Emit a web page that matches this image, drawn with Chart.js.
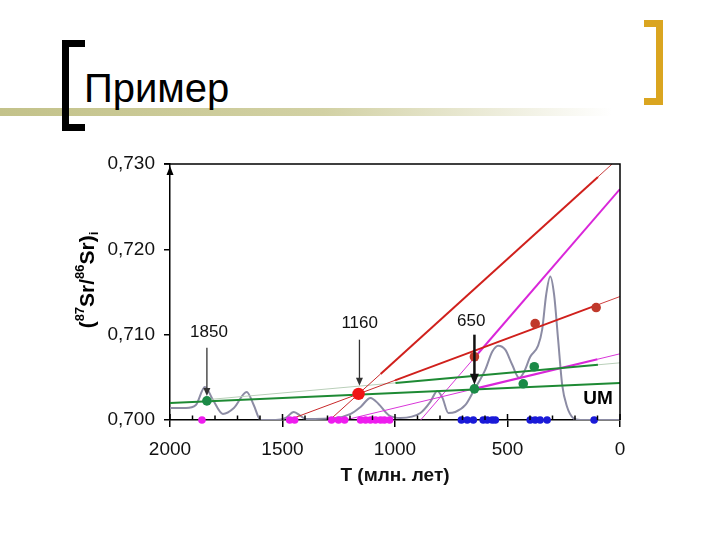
<!DOCTYPE html>
<html>
<head>
<meta charset="utf-8">
<script src="https://cdn.jsdelivr.net/npm/chart.js@4.4.0/dist/chart.umd.min.js"></script>
<style>
  html, body { margin: 0; padding: 0; background: #fff; }
  #slide { position: relative; width: 720px; height: 540px; overflow: hidden; font-family: "Liberation Sans", Arial, sans-serif; }
  .bar { position: absolute; left: 0; top: 108px; width: 720px; height: 8px;
         background: linear-gradient(to right, #c3c28a 0%, #d2d1a4 45%, #ffffff 85%); }
  .title { position: absolute; left: 84px; top: 64px; font-size: 40px; line-height: 48px; color: #000; }
  .brk-l { position: absolute; left: 62px; top: 40px; width: 16px; height: 77px; border: 7px solid #000; border-right: none; }
  .brk-r { position: absolute; left: 644px; top: 20px; width: 12px; height: 71px; border: 7px solid #daa520; border-left: none; }
  canvas { position: absolute; left: 0; top: 0; }
</style>
</head>
<body>
<div id="slide">
  <div class="bar"></div>
  <div class="brk-l"></div>
  <div class="brk-r"></div>
  <div class="title">Пример</div>
  <canvas id="chart" width="720" height="540"></canvas>
</div>
<script>
// density curve of ages (T, Ma) and ratio
const curveT = [2000, 1929, 1885, 1845, 1809, 1765, 1716, 1659, 1628, 1597, 1530, 1486, 1450, 1419, 1397,
  1264, 1197, 1153, 1109, 1073, 1029, 976, 887, 843, 812, 789, 763, 732, 687, 648, 599, 568, 541, 510,
  479, 448, 426, 399, 364, 346, 328, 310, 293, 275, 257, 235, 208, 177, 0]
const curveV = [0.70141, 0.70141, 0.70176, 0.70388, 0.70235, 0.70071, 0.70141, 0.70329, 0.70176, 0.7, 0.7,
  0.70024, 0.70094, 0.70047, 0.70012, 0.70024, 0.70071, 0.70153, 0.70259, 0.70188, 0.70059, 0.70024,
  0.70082, 0.70212, 0.70341, 0.70259, 0.70082, 0.70094, 0.70176, 0.70353, 0.70588, 0.708, 0.70871,
  0.70824, 0.70647, 0.70494, 0.70565, 0.70741, 0.70871, 0.71059, 0.71471, 0.71682, 0.71471, 0.70941,
  0.70412, 0.70153, 0.70024, 0.7, 0.7]

// ages of samples along the baseline
const pinkAges = [1858, 1468, 1446, 1282, 1251, 1224, 1153, 1131, 1109, 1087, 1064, 1047, 1024]
const blueAges = [705, 679, 652, 608, 590, 568, 554, 399, 377, 355, 324, 115]

// measured points
const greenT = [1836, 647, 430, 381]
const greenV = [0.70224, 0.70365, 0.70424, 0.70624]
const redT = [647, 377, 106]
const redV = [0.70741, 0.71129, 0.71318]
const keyT = [1162]
const keyV = [0.70306]

// evolution lines: [T, ratio] end points
const redSteepThin = [[1290, 0.7], [1064, 0.7054]]
const redSteep = [[1064, 0.7054], [98, 0.72849]]
const redSteepEnd = [[98, 0.72849], [35, 0.73]]
const redFlatThin = [[1474, 0.7], [1000, 0.70465]]
const redFlat = [[1000, 0.70465], [106, 0.71343]]
const redFlatEnd = [[106, 0.71343], [0, 0.71447]]
const pinkSteepThin = [[886, 0.7], [650, 0.70721]]
const pinkSteep = [[650, 0.70721], [0, 0.72706]]
const pinkFlatThin = [[1222, 0.7], [647, 0.70365]]
const pinkFlat = [[647, 0.70365], [100, 0.70712]]
const pinkFlatEnd = [[100, 0.70712], [0, 0.70776]]
const greenLong = [[2000, 0.702], [0, 0.70435]]
const greenUpThin = [[1836, 0.70238], [998, 0.70435]]
const greenUp = [[998, 0.70435], [98, 0.70647]]
const greenUpEnd = [[98, 0.70647], [0, 0.7067]]

// arrows and labels
const marks = [
  { label: "1850", T: 1836, labelT: 1827, labelV: 0.71025, from: 0.70847, to: 0.70282, bold: false },
  { label: "1160", T: 1158, labelT: 1157, labelV: 0.71129, from: 0.70941, to: 0.704, bold: false },
  { label: "650", T: 647, labelT: 661, labelV: 0.71153, from: 0.71, to: 0.70412, bold: true }
]
const umT = 98
const umV = 0.70247

const FONT = "'Liberation Sans', Arial, sans-serif"

function seg(points, color, width, order) {
  return {
    data: points.map(p => ({ x: p[0], y: p[1] })),
    showLine: true,
    borderColor: color,
    borderWidth: width,
    pointRadius: 0,
    order: order || 5
  }
}

function dots(ts, vs, color, radius, order) {
  return {
    data: ts.map((t, i) => ({ x: t, y: vs[i] })),
    showLine: false,
    backgroundColor: color,
    borderColor: color,
    borderWidth: 0,
    pointRadius: radius,
    clip: false,
    order: order || 1
  }
}

const framePlugin = {
  id: "frame",
  afterDraw(chart) {
    const { ctx, chartArea: a, scales: { x, y } } = chart
    ctx.save()
    ctx.strokeStyle = "#000"
    ctx.fillStyle = "#000"
    ctx.lineWidth = 1.5

    // top and right frame
    ctx.beginPath()
    ctx.moveTo(a.left - 6, a.top)
    ctx.lineTo(a.right, a.top)
    ctx.lineTo(a.right, a.bottom)
    ctx.stroke()

    // arrow head on the y axis
    ctx.beginPath()
    ctx.moveTo(a.left, a.top + 2)
    ctx.lineTo(a.left - 3.5, a.top + 11)
    ctx.lineTo(a.left + 3.5, a.top + 11)
    ctx.closePath()
    ctx.fill()

    // inner ticks on the x axis
    for (let t = 0; t <= 2000; t += 100) {
      const px = x.getPixelForValue(t)
      const len = t % 500 === 0 ? 6 : 4.5
      ctx.beginPath()
      ctx.moveTo(px, a.bottom)
      ctx.lineTo(px, a.bottom - len)
      ctx.stroke()
    }

    // age arrows
    marks.forEach(m => {
      const px = x.getPixelForValue(m.T)
      const y1 = y.getPixelForValue(m.from)
      const y2 = y.getPixelForValue(m.to)
      const head = m.bold ? 11 : 8
      const half = m.bold ? 4.5 : 3.5
      ctx.lineWidth = m.bold ? 2.5 : 1.3
      ctx.strokeStyle = m.bold ? "#111" : "#333"
      ctx.fillStyle = m.bold ? "#111" : "#333"
      ctx.beginPath()
      ctx.moveTo(px, y1)
      ctx.lineTo(px, y2 - head + 1)
      ctx.stroke()
      ctx.beginPath()
      ctx.moveTo(px, y2)
      ctx.lineTo(px - half, y2 - head)
      ctx.lineTo(px + half, y2 - head)
      ctx.closePath()
      ctx.fill()

      ctx.fillStyle = "#111"
      ctx.font = "17px " + FONT
      ctx.textAlign = "center"
      ctx.textBaseline = "middle"
      ctx.fillText(m.label, x.getPixelForValue(m.labelT), y.getPixelForValue(m.labelV))
    })

    ctx.fillStyle = "#000"
    ctx.font = "bold 19px " + FONT
    ctx.textAlign = "center"
    ctx.textBaseline = "middle"
    ctx.fillText("UM", x.getPixelForValue(umT), y.getPixelForValue(umV))

    // y axis title with isotope superscripts
    const parts = [
      { t: "(", big: true, dy: 0 },
      { t: "87", big: false, dy: -8 },
      { t: "Sr/", big: true, dy: 0 },
      { t: "86", big: false, dy: -8 },
      { t: "Sr)", big: true, dy: 0 },
      { t: "i", big: false, dy: 6 }
    ]
    const bigFont = "bold 21px " + FONT
    const smallFont = "bold 13px " + FONT
    let total = 0
    parts.forEach(p => {
      ctx.font = p.big ? bigFont : smallFont
      p.w = ctx.measureText(p.t).width
      total += p.w
    })
    ctx.translate(88, 280)
    ctx.rotate(-Math.PI / 2)
    ctx.textAlign = "left"
    ctx.textBaseline = "middle"
    let cx = -total / 2
    parts.forEach(p => {
      ctx.font = p.big ? bigFont : smallFont
      ctx.fillText(p.t, cx, p.dy)
      cx += p.w
    })
    ctx.restore()
  }
}

const ctx = document.getElementById("chart").getContext("2d")

new Chart(ctx, {
  type: "scatter",
  data: {
    datasets: [
      {
        data: curveT.map((t, i) => ({ x: t, y: curveV[i] })),
        showLine: true,
        borderColor: "#8c8ca4",
        borderWidth: 2,
        pointRadius: 0,
        cubicInterpolationMode: "monotone",
        order: 10
      },
      seg(greenUpThin, "#b9cfb9", 1, 6),
      seg(greenUpEnd, "#b9cfb9", 1, 6),
      seg(greenUp, "#1e8a34", 2, 5),
      seg(greenLong, "#1e8a34", 2, 5),
      seg(pinkSteepThin, "#d936d9", 1, 5),
      seg(pinkSteep, "#d926d9", 2, 5),
      seg(pinkFlatThin, "#d936d9", 1, 5),
      seg(pinkFlat, "#d926d9", 2.2, 5),
      seg(pinkFlatEnd, "#d936d9", 1, 5),
      seg(redSteepThin, "#c8282a", 1, 4),
      seg(redSteep, "#d0201c", 2, 4),
      seg(redSteepEnd, "#c84040", 1, 4),
      seg(redFlatThin, "#c8282a", 1, 4),
      seg(redFlat, "#d0201c", 2, 4),
      seg(redFlatEnd, "#d04040", 1, 4),
      dots(pinkAges, pinkAges.map(() => 0.7), "#ee1cee", 3.8, 2),
      dots(blueAges, blueAges.map(() => 0.7), "#1a1ad8", 3.8, 2),
      dots(greenT, greenV, "#1b8a47", 4.8, 1),
      dots(redT, redV, "#c0392b", 4.8, 1),
      dots(keyT, keyV, "#f01515", 6.2, 1)
    ]
  },
  options: {
    responsive: false,
    animation: false,
    layout: { padding: { top: 164, right: 100, left: 0, bottom: 0 } },
    plugins: {
      legend: { display: false },
      tooltip: { enabled: false }
    },
    scales: {
      x: {
        type: "linear",
        reverse: true,
        min: 0,
        max: 2000,
        ticks: {
          stepSize: 500,
          padding: 11,
          color: "#111",
          font: { family: FONT, size: 19 },
          maxRotation: 0,
          callback: v => String(v)
        },
        grid: { drawOnChartArea: false, color: "#000", lineWidth: 1.5, tickLength: 7 },
        border: { color: "#000", width: 1.5 },
        title: {
          display: true,
          text: "T (млн. лет)",
          color: "#111",
          font: { family: FONT, size: 19, weight: "bold" },
          padding: { top: 0, bottom: 53 }
        },
        afterFit(scale) { scale.height = 120 }
      },
      y: {
        type: "linear",
        min: 0.7,
        max: 0.73,
        ticks: {
          stepSize: 0.01,
          padding: 9,
          color: "#111",
          font: { family: FONT, size: 19 },
          callback: v => v.toFixed(3).replace(".", ",")
        },
        grid: { drawOnChartArea: false, color: "#000", lineWidth: 1.5, tickLength: 6 },
        border: { color: "#000", width: 1.5 },
        afterFit(scale) { scale.width = 170 }
      }
    }
  },
  plugins: [framePlugin]
})
</script>
</body>
</html>
